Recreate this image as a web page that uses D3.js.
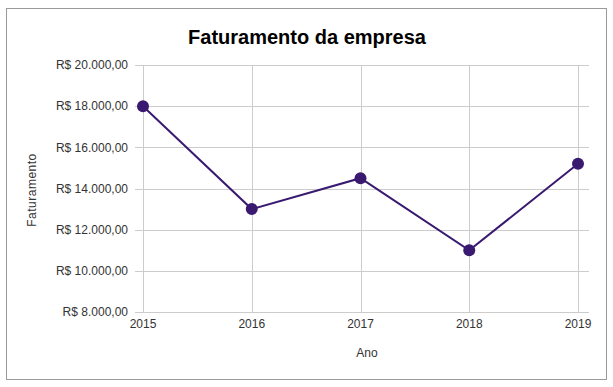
<!DOCTYPE html>
<html>
<head>
<meta charset="utf-8">
<script src="https://cdn.jsdelivr.net/npm/d3@7"></script>
<style>
  body { margin: 0; background: #fff; }
  svg { font-family: "Liberation Sans", Arial, sans-serif; }
</style>
</head>
<body>
<svg class="chart"></svg>
<script>
const anos = ["2015", "2016", "2017", "2018", "2019"];
const faturamento = [18000, 13000, 14500, 11000, 15200];
const yTicks = [8000, 10000, 12000, 14000, 16000, 18000, 20000];

const width = 613;
const height = 387;
const margin = {top: 65, right: 35, bottom: 75, left: 143};

const svg = d3.select(".chart")
    .attr("width", width)
    .attr("height", height);

// moldura
svg.append("rect")
    .attr("x", 6.5).attr("y", 8.5)
    .attr("width", 600).attr("height", 371)
    .attr("fill", "#fff")
    .attr("stroke", "#9a9a9a");

const x = d3.scalePoint()
    .domain(anos)
    .range([margin.left, width - margin.right]);

const y = d3.scaleLinear()
    .domain([8000, 20000])
    .range([height - margin.bottom, margin.top]);

const brl = v => "R$ " + d3.format(",.2f")(v).replace(/,/g, "#").replace(".", ",").replace(/#/g, ".");

// grade horizontal
svg.append("g")
    .selectAll("line")
    .data(yTicks)
    .enter().append("line")
    .attr("x1", margin.left - 8)
    .attr("x2", width - margin.right + 11)
    .attr("y1", d => Math.round(y(d)) + 0.5)
    .attr("y2", d => Math.round(y(d)) + 0.5)
    .attr("stroke", "#cccccc");

// grade vertical
svg.append("g")
    .selectAll("line")
    .data(anos)
    .enter().append("line")
    .attr("x1", d => Math.round(x(d)) + 0.5)
    .attr("x2", d => Math.round(x(d)) + 0.5)
    .attr("y1", margin.top)
    .attr("y2", height - margin.bottom)
    .attr("stroke", "#cccccc");

// rótulos do eixo y
svg.append("g")
    .selectAll("text")
    .data(yTicks)
    .enter().append("text")
    .attr("x", margin.left - 15)
    .attr("y", d => y(d))
    .attr("dy", "0.35em")
    .attr("text-anchor", "end")
    .attr("font-size", 12)
    .attr("fill", "#333")
    .text(brl);

// rótulos do eixo x
svg.append("g")
    .selectAll("text")
    .data(anos)
    .enter().append("text")
    .attr("x", d => x(d))
    .attr("y", height - margin.bottom + 16)
    .attr("text-anchor", "middle")
    .attr("font-size", 12)
    .attr("fill", "#333")
    .text(d => d);

const cor = "#3a1a70";

svg.append("path")
    .datum(faturamento)
    .attr("fill", "none")
    .attr("stroke", cor)
    .attr("stroke-width", 2)
    .attr("d", d3.line().x((d, i) => x(anos[i])).y(d => y(d)));

svg.append("g")
    .selectAll("circle")
    .data(faturamento)
    .enter().append("circle")
    .attr("cx", (d, i) => x(anos[i]))
    .attr("cy", d => y(d))
    .attr("r", 6)
    .attr("fill", cor);

svg.append("text")
    .attr("x", 307)
    .attr("y", 44)
    .attr("text-anchor", "middle")
    .attr("font-size", 20)
    .attr("font-weight", "bold")
    .attr("fill", "#000")
    .text("Faturamento da empresa");

svg.append("text")
    .attr("x", 367)
    .attr("y", 357)
    .attr("text-anchor", "middle")
    .attr("font-size", 12)
    .attr("fill", "#333")
    .text("Ano");

svg.append("text")
    .attr("transform", "translate(36, 190) rotate(-90)")
    .attr("text-anchor", "middle")
    .attr("font-size", 12)
    .attr("letter-spacing", 0.5)
    .attr("fill", "#333")
    .text("Faturamento");
</script>
</body>
</html>
